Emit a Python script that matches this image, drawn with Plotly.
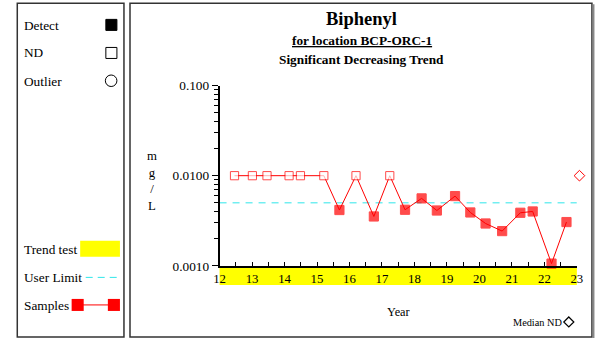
import math
import plotly.graph_objects as go

# Layout is specified in final-image pixels (597 x 339); the page is
# photographed over a slightly larger area, so positions are stretched by
# SX / SY and the 8px body margin is taken off.
IMG_W, IMG_H = 597, 339
SX, SY = 613 / 597, 355 / 339
PAD = 8
W = math.ceil(IMG_W * SX - PAD)
H = math.ceil(IMG_H * SY - PAD)

# Sample dates (decimal years, 20xx) and concentrations in mg/L
sample_year = [12.46, 13.01, 13.46, 14.14, 14.49, 15.21, 15.69, 16.2, 16.75, 17.24,
               17.71, 18.22, 18.69, 19.25, 19.72, 20.19, 20.70, 21.26, 21.64, 22.22, 22.68]
sample_conc = [0.01, 0.01, 0.01, 0.01, 0.01, 0.01, 0.00416, 0.01, 0.00353, 0.01,
               0.00419, 0.0056, 0.00411, 0.00594, 0.00391, 0.00295, 0.00243, 0.00388,
               0.00401, 0.00106, 0.00306]
sample_detect = [False, False, False, False, False, False, True, False, True, False,
                 True, True, True, True, True, True, True, True, True, True, True]

median_nd_year = [23.08]
median_nd_conc = [0.01]

user_limit = 0.005
year_range = [12, 23]
year_ticks = list(range(12, 24))
conc_ticks = [0.001, 0.01, 0.1]
conc_tick_text = ["0.0010", "0.0100", "0.100"]
conc_minor = [m * 10.0 ** e for e in (-3, -2) for m in range(2, 10)]

SERIF = "Liberation Serif"
RED = "#ff0000"
CYAN = "#2ee6ea"

# pixel extent of the plotting area and of the margin strip to its right
X_LEFT, X_RIGHT, X_EDGE = 220, 575, 588
Y_TOP, Y_BOTTOM = 86, 266


def px(x):
    return (x * SX - PAD) / W


def py(y):
    return 1 - (y * SY - PAD) / H


def fs(size):
    return round(size * SX, 1)


fig = go.Figure()

# user limit reference line
fig.add_trace(go.Scatter(
    x=year_range, y=[user_limit, user_limit], mode="lines",
    line=dict(color=CYAN, width=1, dash="7px,6px"),
    hoverinfo="skip", showlegend=False))

# samples: filled squares for detects, open squares for non-detects
fig.add_trace(go.Scatter(
    x=sample_year, y=sample_conc, mode="lines+markers",
    line=dict(color=RED, width=1),
    marker=dict(symbol="square", size=[fs(9) if d else fs(8) for d in sample_detect],
                color=[RED if d else "white" for d in sample_detect],
                line=dict(color=RED, width=1)),
    cliponaxis=False, showlegend=False))

# median of non-detects, shown just past the last year on a hidden
# axis with the same scale that continues into the right margin
fig.add_trace(go.Scatter(
    x=median_nd_year, y=median_nd_conc, mode="markers", xaxis="x2", yaxis="y",
    marker=dict(symbol="diamond-open", size=fs(8), color=RED, line=dict(width=1)),
    cliponaxis=False, showlegend=False))

shapes = []
# panel frames
shapes.append(dict(type="rect", xref="paper", yref="paper",
                   x0=px(19), x1=px(125), y0=py(337), y1=py(4),
                   line=dict(color="#333333", width=1.5)))
shapes.append(dict(type="rect", xref="paper", yref="paper",
                   x0=px(131), x1=px(590), y0=py(337), y1=py(4),
                   line=dict(color="#333333", width=1.5)))
shapes.append(dict(type="line", xref="paper", yref="paper",
                   x0=px(591.5), x1=px(591.5), y0=py(338), y1=py(5),
                   line=dict(color="#888888", width=2)))

# trend test band under the year axis
shapes.append(dict(type="rect", xref="paper", yref="paper", layer="below",
                   x0=px(220), x1=px(575), y0=py(285), y1=py(266.5),
                   fillcolor="#ffff00", line=dict(width=0)))

# legend glyphs
shapes.append(dict(type="rect", xref="paper", yref="paper",
                   x0=px(107), x1=px(118), y0=py(31), y1=py(20),
                   fillcolor="black", line=dict(color="black", width=1)))
shapes.append(dict(type="rect", xref="paper", yref="paper",
                   x0=px(107), x1=px(118), y0=py(59), y1=py(48),
                   fillcolor="white", line=dict(color="black", width=1)))
shapes.append(dict(type="circle", xref="paper", yref="paper",
                   x0=px(106.5), x1=px(118), y0=py(87), y1=py(75.5),
                   line=dict(color="black", width=1)))
shapes.append(dict(type="rect", xref="paper", yref="paper",
                   x0=px(81.5), x1=px(121), y0=py(257), y1=py(241),
                   fillcolor="#ffff00", line=dict(width=0)))
shapes.append(dict(type="line", xref="paper", yref="paper",
                   x0=px(87), x1=px(121), y0=py(277.5), y1=py(277.5),
                   line=dict(color=CYAN, width=1, dash="7px,5px")))
shapes.append(dict(type="line", xref="paper", yref="paper",
                   x0=px(79), x1=px(115), y0=py(305), y1=py(305),
                   line=dict(color=RED, width=1)))
for cx in (79, 115):
    shapes.append(dict(type="rect", xref="paper", yref="paper",
                       x0=px(cx - 6), x1=px(cx + 6), y0=py(311), y1=py(299),
                       fillcolor=RED, line=dict(width=0)))
# median ND key glyph
shapes.append(dict(type="path", xref="paper", yref="paper",
                   path="M {a},{b} L {c},{d} L {a},{e} L {f},{d} Z".format(
                       a=px(567), b=py(317), c=px(572), d=py(322),
                       e=py(327), f=px(562)),
                   line=dict(color="black", width=1.2)))

annotations = []


def label(text, x, y, size, xanchor="left", bold=False, **kw):
    if bold:
        text = "<b>" + text + "</b>"
    annotations.append(dict(text=text, x=px(x), y=py(y), xref="paper", yref="paper",
                            xanchor=xanchor, yanchor="middle", showarrow=False,
                            font=dict(family=SERIF, size=fs(size), color="black"), **kw))


label("Biphenyl", 361.5, 20, 18, xanchor="center", bold=True)
label("<u>for location BCP-ORC-1</u>", 361.5, 41, 13, xanchor="center", bold=True)
label("Significant Decreasing Trend", 361.5, 60, 13, xanchor="center", bold=True)

label("Detect", 24, 26, 13)
label("ND", 24, 53.5, 13)
label("Outlier", 24, 81.5, 13)
label("Trend test", 24, 249.5, 13)
label("User Limit", 24, 277.5, 13)
label("Samples", 24, 305.5, 13)

label("m<br>g<br>/<br>L", 152.5, 181, 12.5, xanchor="center", align="center")
label("Year", 397.5, 312.5, 12, xanchor="center")
label("Median ND", 510, 322.5, 10)

years_per_px = (year_range[1] - year_range[0]) / (X_RIGHT - X_LEFT)
x2_range = [year_range[0], year_range[0] + years_per_px * (X_EDGE - X_LEFT)]

fig.update_layout(
    width=W, height=H,
    margin=dict(l=0, r=0, t=0, b=0),
    paper_bgcolor="white", plot_bgcolor="rgba(0,0,0,0)",
    shapes=shapes, annotations=annotations,
    font=dict(family=SERIF, color="black"),
    xaxis=dict(
        domain=[px(X_LEFT), px(X_RIGHT)], range=year_range,
        tickmode="array", tickvals=year_ticks, ticktext=[str(v) for v in year_ticks],
        ticks="inside", ticklen=4, tickcolor="black", tickwidth=1,
        minor=dict(dtick=0.5, ticks="inside", ticklen=4, tickcolor="black", showgrid=False),
        showline=True, linecolor="black", linewidth=1.5,
        showgrid=False, zeroline=False,
        tickfont=dict(family=SERIF, size=fs(12.5), color="black"),
        fixedrange=True),
    xaxis2=dict(
        domain=[px(X_LEFT), px(X_EDGE)], range=x2_range, anchor="y",
        visible=False, showgrid=False, zeroline=False, fixedrange=True),
    yaxis=dict(
        domain=[py(Y_BOTTOM), py(Y_TOP)], type="log", range=[-3, -1],
        tickmode="array", tickvals=conc_ticks, ticktext=conc_tick_text,
        ticks="outside", ticklen=6, tickcolor="black", tickwidth=1,
        minor=dict(tickmode="array", tickvals=conc_minor, ticks="outside",
                   ticklen=4, tickcolor="black", showgrid=False),
        showline=True, linecolor="black", linewidth=1.5,
        showgrid=False, zeroline=False,
        tickfont=dict(family=SERIF, size=fs(13), color="black"),
        fixedrange=True),
    showlegend=False,
)

fig.write_html("out.html", config={"displayModeBar": False})
